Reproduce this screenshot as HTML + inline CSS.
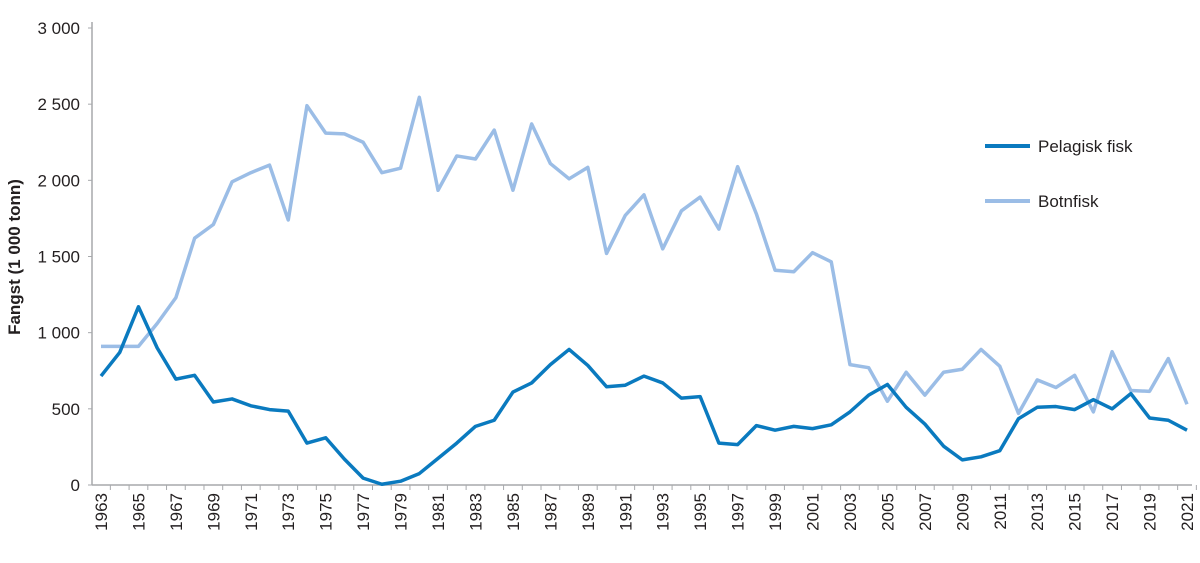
<!DOCTYPE html>
<html><head><meta charset="utf-8"><style>
body{margin:0;background:#fff;font-family:"Liberation Sans",sans-serif}
svg text{font-family:"Liberation Sans",sans-serif;fill:#231f20}
</style></head><body>
<svg width="1200" height="558" viewBox="0 0 1200 558">
<g id="grid"></g>
<g id="series"></g>
<g id="legend">
 <line x1="985" y1="146" x2="1030" y2="146" stroke="#0a7abf" stroke-width="4"/>
 <text x="1038" y="152" font-size="17">Pelagisk fisk</text>
 <line x1="985" y1="201" x2="1030" y2="201" stroke="#9bbde6" stroke-width="4"/>
 <text x="1038" y="207" font-size="17">Botnfisk</text>
</g>
<text transform="translate(20,257) rotate(-90)" text-anchor="middle" font-size="17" font-weight="bold">Fangst (1 000 tonn)</text>
</svg>
<script>
const years=[];for(let y=1963;y<=2021;y++)years.push(y);
const botnfisk=[910,910,910,1060,1230,1620,1710,1990,2050,2100,1740,2490,2310,2305,2250,2050,2080,2545,1935,2160,2140,2330,1935,2370,2110,2010,2085,1520,1770,1905,1550,1800,1890,1680,2090,1780,1410,1400,1525,1465,790,770,550,740,590,740,760,890,780,470,690,640,720,480,875,620,615,830,530];
const pelagisk=[715,870,1170,900,695,720,545,565,520,495,485,275,310,170,45,5,25,75,175,275,385,425,610,670,790,890,785,645,655,715,670,570,580,275,265,390,360,385,370,395,480,590,660,510,400,255,165,185,225,435,510,515,495,560,500,600,440,425,360];
const yTicks=[0,500,1000,1500,2000,2500,3000];
const yTickLabels=["0","500","1 000","1 500","2 000","2 500","3 000"];
const NS="http://www.w3.org/2000/svg";
const X0=101,X1=1187,Y0=485,Y1=28;
const xs=i=>X0+(X1-X0)*i/(years.length-1);
const ys=v=>Y0-(Y0-Y1)*v/3000;
const g=document.getElementById('grid');
function mk(t,a,p){const e=document.createElementNS(NS,t);for(const k in a)e.setAttribute(k,a[k]);p.appendChild(e);return e;}
let l=mk('line',{x1:92,y1:Y1-6,x2:92,y2:Y0,stroke:'#a7a9ac','stroke-width':1.5},g);


l=mk('line',{x1:92,y1:Y0,x2:1192,y2:Y0,stroke:'#a7a9ac','stroke-width':1.5},g);


yTicks.forEach((v,i)=>{
 mk('line',{x1:88,y1:ys(v),x2:92,y2:ys(v),stroke:'#a7a9ac','stroke-width':1},g);
 const t=mk('text',{x:80,y:ys(v)+6,'text-anchor':'end','font-size':17},g);
 t.textContent=yTickLabels[i];
 
 
});
years.forEach((yr,i)=>{
 const x=xs(i)+9.36;
 mk('line',{x1:x,y1:Y0,x2:x,y2:Y0+5,stroke:'#a7a9ac','stroke-width':1},g);
 if(yr%2===1){
  const t=mk('text',{transform:`translate(${xs(i)+6},${Y0+8}) rotate(-90)`,'text-anchor':'end','font-size':17},g);
  t.textContent=yr;
  
  
 }
});
const s=document.getElementById('series');
function line(data,color,name){
 const p=mk('polyline',{points:data.map((v,i)=>xs(i)+','+ys(v)).join(' '),fill:'none',stroke:color,'stroke-width':3.5,'stroke-linejoin':'round'},s);
 
 
}
line(botnfisk,'#9bbde6','botnfisk-line');
line(pelagisk,'#0a7abf','pelagisk-line');
</script>
</body></html>
